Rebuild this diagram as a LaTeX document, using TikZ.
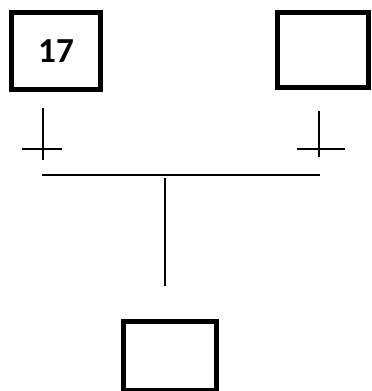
\documentclass[tikz,border=0pt]{standalone}
\usepackage{fontspec}
\setmainfont{Carlito}
\usepackage{tikz}

\begin{document}
\begin{tikzpicture}[x=0.02cm,y=-0.02cm,
  etape/.style={draw, line width=2.8pt, inner sep=0pt, font=\fontsize{20}{22}\selectfont\bfseries},
  liaison/.style={line width=0.85pt}]
\useasboundingbox (0,0) rectangle (371,391);

% Steps
\node[etape, minimum width=89*0.02cm, minimum height=77*0.02cm] (e17) at (56,51) {17};
\node[etape, minimum width=91*0.02cm, minimum height=75*0.02cm] (eR) at (323,50) {};
\node[etape, minimum width=93*0.02cm, minimum height=69*0.02cm] (eB) at (170,356) {};

% Transitions (left and right)
\coordinate (tLh) at (43,108);
\coordinate (tLb) at (43,160);
\coordinate (tLg) at (22,149);
\coordinate (tLd) at (62,149);
\draw[liaison] (tLh) -- (tLb);
\draw[liaison] (tLg) -- (tLd);

\coordinate (tRh) at (319,111);
\coordinate (tRb) at (319,157);
\coordinate (tRg) at (297,149);
\coordinate (tRd) at (345,149);
\draw[liaison] (tRh) -- (tRb);
\draw[liaison] (tRg) -- (tRd);

% Convergence line
\coordinate (cG) at (42,175);
\coordinate (cD) at (320,175);
\draw[liaison] (cG) -- (cD);

% Link down to the next step
\coordinate (lH) at (165,178);
\coordinate (lB) at (165,286);
\draw[liaison] (lH) -- (lB);
\end{tikzpicture}
\end{document}
